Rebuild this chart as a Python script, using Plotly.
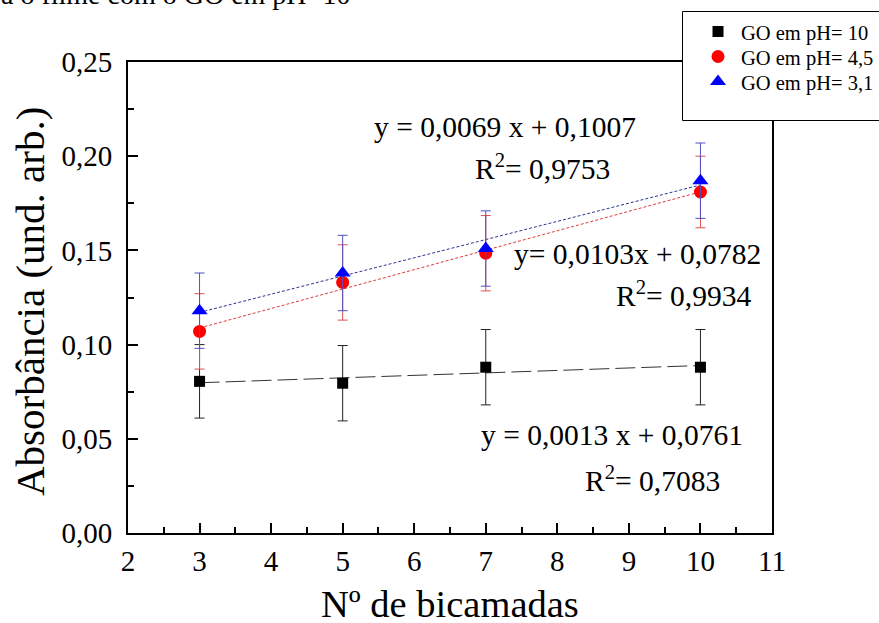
import numpy as np
import plotly.graph_objects as go

# ---- data ----
bicamadas = [3, 5, 7, 10]
abs_ph10 = [0.0805, 0.0795, 0.088, 0.088]
abs_ph45 = [0.107, 0.133, 0.1485, 0.181]
abs_ph31 = [0.118, 0.138, 0.151, 0.187]
err_ph10 = [0.0195, 0.02, 0.02, 0.02]
err_ph45 = [0.02, 0.02, 0.02, 0.019]
err_ph31 = [0.02, 0.02, 0.02, 0.02]
series_names = ["GO em pH= 10", "GO em pH= 4,5", "GO em pH= 3,1"]
eq_texts = ["y = 0,0069 x + 0,1007", "R<sup>2</sup>= 0,9753",
            "y= 0,0103x + 0,0782", "R<sup>2</sup>= 0,9934",
            "y = 0,0013 x + 0,0761", "R<sup>2</sup>= 0,7083"]
x_ticks = list(range(2, 12))
y_ticks = [0.0, 0.05, 0.10, 0.15, 0.20, 0.25]

FONT = "Liberation Serif, Times New Roman, serif"

fig = go.Figure()

# fit lines (computed from the data)
fit_styles = [
    (abs_ph10, dict(color="#333333", width=1, dash="20px,6px")),
    (abs_ph45, dict(color="#e03a3a", width=1, dash="3px,2px")),
    (abs_ph31, dict(color="#2a3590", width=1, dash="3px,2px")),
]
xs = np.array(bicamadas, dtype=float)
xl = np.array([xs.min(), xs.max()])
for ys, style in fit_styles:
    m, b = np.polyfit(xs, np.array(ys), 1)
    fig.add_trace(go.Scatter(x=xl, y=m * xl + b, mode="lines", line=style,
                             showlegend=False, hoverinfo="skip"))

# data points with error bars
fig.add_trace(go.Scatter(
    x=bicamadas, y=abs_ph10, mode="markers", name=series_names[0], legend="legend",
    marker=dict(symbol="square", size=11, color="black"),
    error_y=dict(type="data", array=err_ph10, color="#222222", thickness=1, width=5)))
fig.add_trace(go.Scatter(
    x=bicamadas, y=abs_ph45, mode="markers", name=series_names[1], legend="legend2",
    marker=dict(symbol="circle", size=13, color="#ff0000"),
    error_y=dict(type="data", array=err_ph45, color="#e05050", thickness=1, width=5)))
fig.add_trace(go.Scatter(
    x=bicamadas, y=abs_ph31, mode="markers", name=series_names[2], legend="legend3",
    marker=dict(symbol="triangle-up", size=14, color="#0000ff"),
    error_y=dict(type="data", array=err_ph31, color="#5050c0", thickness=1, width=5)))

# plot-area geometry (px) used to place annotations
L, T, W, H = 128.0, 62.0, 644.0, 471.0
def px2x(px):  # pixel -> paper x
    return (px - L) / W
def py2y(py):  # pixel -> paper y
    return (T + H - py) / H

annotations = []
eq_pos = [(638, 127), (612, 167), (763, 254), (753, 294), (745, 435), (722, 479)]
for txt, (px, py) in zip(eq_texts, eq_pos):
    annotations.append(dict(text=txt, xref="paper", yref="paper",
                            x=px2x(px), y=py2y(py), xanchor="right", yanchor="middle",
                            showarrow=False, font=dict(family=FONT, size=29.5, color="black")))

# axis titles
annotations.append(dict(text="Nº de bicamadas", xref="paper", yref="paper",
                        x=px2x(450), y=py2y(604), xanchor="center", yanchor="middle",
                        showarrow=False, font=dict(family=FONT, size=38.5, color="black")))
annotations.append(dict(text="Absorbância (und. arb.)", xref="paper", yref="paper",
                        x=px2x(30), y=py2y(302), xanchor="center", yanchor="middle",
                        textangle=-90, showarrow=False,
                        font=dict(family=FONT, size=41, color="black")))
# cropped caption fragment at the top
annotations.append(dict(text="a o filme com o GO em pH=10", xref="paper", yref="paper",
                        x=px2x(-1), y=py2y(-6), xanchor="left", yanchor="middle",
                        showarrow=False, font=dict(family=FONT, size=28, color="black")))

axis_common = dict(showline=True, linewidth=2, linecolor="black", mirror=True,
                   ticks="inside", ticklen=10, tickwidth=2, tickcolor="black",
                   showgrid=False, zeroline=False,
                   tickfont=dict(family=FONT, size=29, color="black"))

legend_rows = [31.7, 56.7, 81.7]
def leg(py):
    return dict(x=px2x(695), y=py2y(py), xanchor="left", yanchor="middle",
                bgcolor="rgba(0,0,0,0)", borderwidth=0, itemwidth=36,
                font=dict(family=FONT, size=20.5, color="black"))

fig.update_layout(
    width=879, height=623,
    margin=dict(l=L, r=879 - L - W, t=T, b=623 - T - H, autoexpand=False),
    paper_bgcolor="white", plot_bgcolor="white",
    separators=",.",
    xaxis=dict(range=[2, 11], tickvals=x_ticks, ticklabelstandoff=1,
               minor=dict(ticks="inside", ticklen=6, tickwidth=2, dtick=0.5, tickcolor="black"),
               **axis_common),
    yaxis=dict(range=[0, 0.25], tickvals=y_ticks, tickformat=".2f", ticklabelstandoff=8,
               minor=dict(ticks="inside", ticklen=6, tickwidth=2, dtick=0.025, tickcolor="black"),
               **axis_common),
    annotations=annotations,
    shapes=[dict(type="rect", xref="paper", yref="paper",
                 x0=px2x(682.5), x1=px2x(900), y0=py2y(120.5), y1=py2y(11.5),
                 line=dict(color="black", width=1), fillcolor="white", layer="above")],
    legend=leg(legend_rows[0]),
    legend2=leg(legend_rows[1]),
    legend3=leg(legend_rows[2]),
)

fig.write_html("out.html")
